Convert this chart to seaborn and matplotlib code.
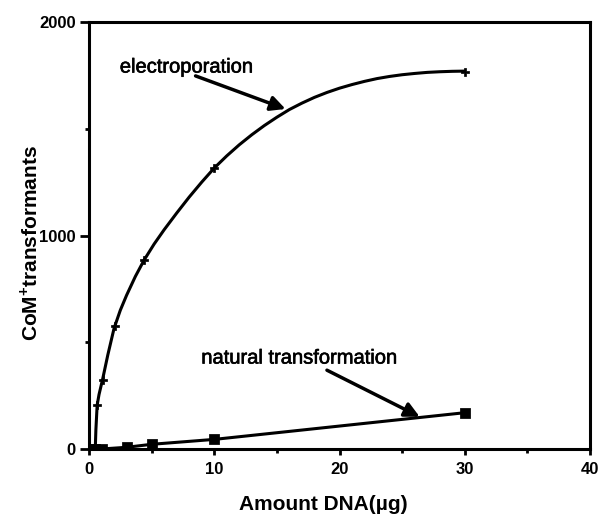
import matplotlib
matplotlib.use("Agg")
import matplotlib.pyplot as plt
import matplotlib.patheffects as pe
import seaborn as sns
import pandas as pd
from matplotlib.ticker import MultipleLocator

# ---- data ----
# electroporation: measured points
elec_x = [0.0, 0.6, 1.1, 2.05, 4.4, 10.0, 30.0]
elec_y = [0, 205, 323, 576, 885, 1316, 1767]
# electroporation: drawn (fitted) curve
elec_curve_x = [0.5, 0.55, 0.65, 0.8, 1.1, 1.5, 2.0, 2.5, 3.0, 3.7, 4.4, 5.2, 6.0, 7.0,
                8.0, 9.0, 10.0, 11.0, 12.0, 13.0, 14.0, 15.0, 16.0, 17.0, 18.0, 19.0,
                20.0, 21.0, 22.0, 23.0, 24.0, 25.0, 26.0, 27.0, 28.0, 29.0, 30.0]
elec_curve_y = [0, 90, 205, 255, 330, 440, 565, 650, 720, 808, 885, 960, 1027, 1105,
                1180, 1250, 1316, 1373, 1425, 1472, 1515, 1554, 1590, 1620, 1647, 1670,
                1690, 1707, 1722, 1735, 1745, 1753, 1759, 1764, 1767, 1769, 1770]
# natural transformation
nat_x = [0.0, 0.5, 1.0, 3.0, 5.0, 10.0, 30.0]
nat_y = [0, 0, 0, 8, 22, 45, 170]

x_ticks = [0, 10, 20, 30, 40]
y_ticks = [0, 1000, 2000]

elec_pts = pd.DataFrame({"x": elec_x, "y": elec_y})
elec_curve = pd.DataFrame({"x": elec_curve_x, "y": elec_curve_y})
nat_pts = pd.DataFrame({"x": nat_x, "y": nat_y})

sns.set_style("ticks")
plt.rcParams["font.family"] = ["Liberation Sans", "DejaVu Sans"]
plt.rcParams["mathtext.fontset"] = "custom"
plt.rcParams["mathtext.rm"] = "Liberation Sans:bold"
plt.rcParams["mathtext.bf"] = "Liberation Sans:bold"
for key in ["text.color", "axes.labelcolor", "xtick.color", "ytick.color", "axes.edgecolor"]:
    plt.rcParams[key] = "black"

fig = plt.figure(figsize=(5.99, 5.17), dpi=100)
ax = fig.add_axes([89 / 599, 1 - 449 / 517, (590 - 89) / 599, (449 - 22) / 517])

sns.lineplot(data=elec_curve, x="x", y="y", sort=False, color="black", lw=2.2, ax=ax)
sns.scatterplot(data=elec_pts, x="x", y="y", marker="P", s=30, color="black",
                edgecolor="black", linewidth=0.5, ax=ax, zorder=5)
sns.lineplot(data=nat_pts, x="x", y="y", sort=False, color="black", lw=2.2, ax=ax)
sns.scatterplot(data=nat_pts, x="x", y="y", marker="s", s=45, color="black",
                edgecolor="black", ax=ax, zorder=5)

ax.set_xlim(0, 40)
ax.set_ylim(0, 2000)
ax.set_xticks(x_ticks)
ax.set_yticks(y_ticks)
ax.xaxis.set_minor_locator(MultipleLocator(5))
ax.yaxis.set_minor_locator(MultipleLocator(500))
for s in ax.spines.values():
    s.set_linewidth(2.2)
    s.set_visible(True)
    s.set_color("black")
ax.tick_params(axis="both", which="both", colors="black")
ax.tick_params(axis="both", which="major", direction="out", width=2, labelsize=12)
ax.tick_params(axis="x", which="major", length=4.5, pad=5)
ax.tick_params(axis="y", which="major", length=6.5, pad=3)
ax.tick_params(axis="both", which="minor", direction="out", width=2, length=3)
for lab in ax.get_xticklabels() + ax.get_yticklabels():
    lab.set_fontweight("bold")

ax.set_xlabel("Amount DNA(\u00b5g)", fontsize=15, fontweight="bold", va="center")
ax.xaxis.set_label_coords((323 - 89) / (590 - 89), -(505 - 449) / (449 - 22))
ax.set_ylabel(r"CoM$^{+}$transformants", fontsize=15, fontweight="bold", va="center")
ax.yaxis.set_label_coords(-(89 - 30) / (590 - 89), (449 - 243) / (449 - 22))

# annotations
thick = [pe.withStroke(linewidth=0.45, foreground="black")]
ax.text(7.8, 1789, "electroporation", fontsize=14.5, ha="center", va="center",
        path_effects=thick)
ax.annotate("", xy=(15.9, 1588), xytext=(8.3, 1752),
            arrowprops=dict(arrowstyle="-|>", color="black", lw=2.5, mutation_scale=22))
ax.text(16.8, 426, "natural transformation", fontsize=14.5, ha="center", va="center",
        path_effects=thick)
ax.annotate("", xy=(26.6, 145), xytext=(18.8, 375),
            arrowprops=dict(arrowstyle="-|>", color="black", lw=2.5, mutation_scale=22))

fig.savefig("out.png", dpi=100)
